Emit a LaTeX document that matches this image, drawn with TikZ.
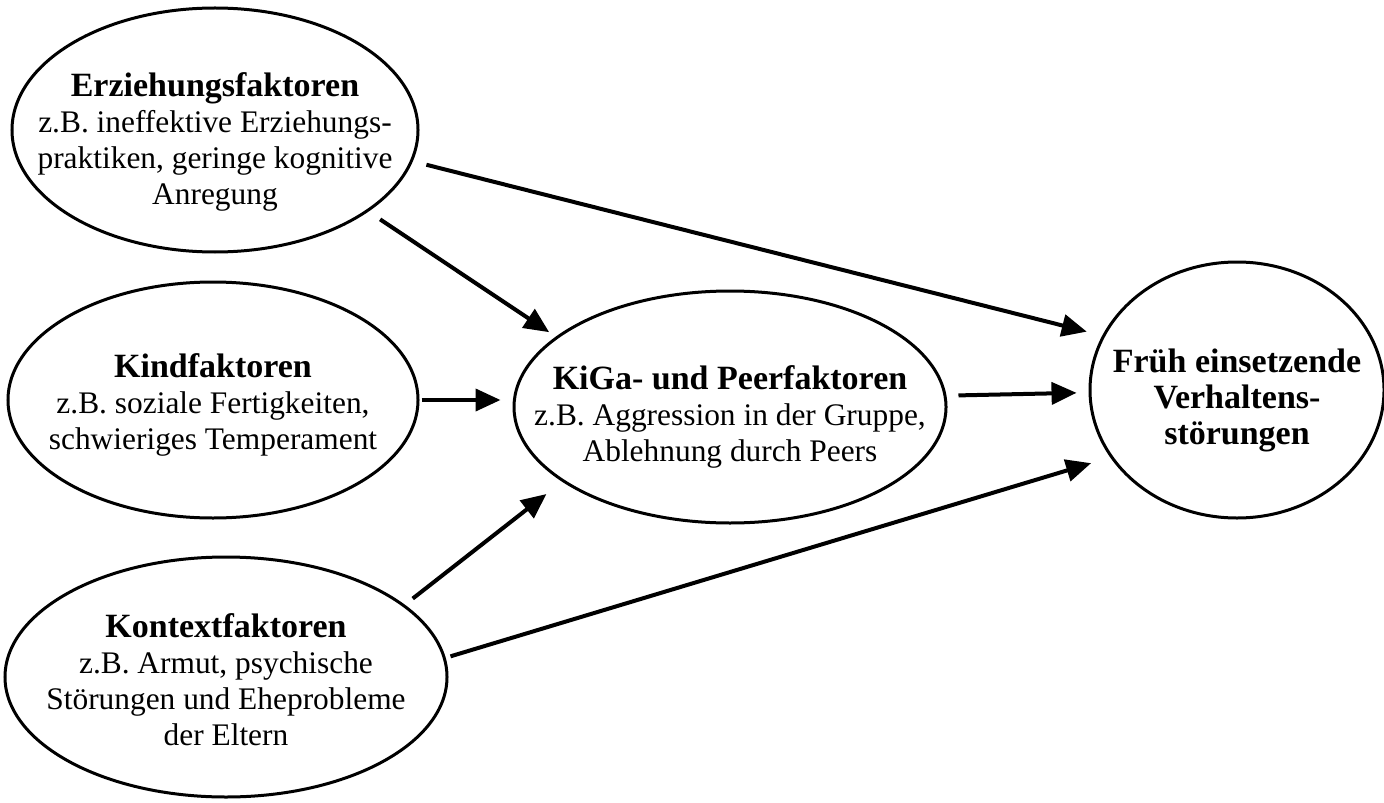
\documentclass[tikz,border=0pt]{standalone}
\usepackage{fontspec}
\setmainfont{Liberation Serif}
\usetikzlibrary{arrows.meta,shapes.geometric}
\newcommand{\fakt}[1]{{\fontsize{17}{18}\selectfont\bfseries #1}}

\begin{document}
\begin{tikzpicture}[x=0.5pt,y=-0.5pt,>={Triangle[length=12.5pt,width=11pt]},
  blob/.style={draw,ellipse,line width=1.5pt,inner sep=0pt},
  txt/.style={align=center,inner sep=0pt,font=\fontsize{15.7}{18}\selectfont},
  arr/.style={->,line width=2pt}]
\useasboundingbox (0,0) rectangle (1384,802);
\node[blob,minimum width=203pt,minimum height=122pt] (erz) at (215,130) {};
\node[blob,minimum width=205pt,minimum height=118pt] (kind) at (213,400) {};
\node[blob,minimum width=221pt,minimum height=120pt] (kontext) at (226,677) {};
\node[blob,minimum width=216pt,minimum height=116pt] (kiga) at (730,407) {};
\node[blob,minimum width=147pt,minimum height=128pt] (frueh) at (1237,390) {};
\node[txt] (erzT) at (215,142) {\fakt{Erziehungsfaktoren}\\z.B. ineffektive Erziehungs-\\praktiken, geringe kognitive\\Anregung};
\node[txt] (kindT) at (213,405) {\fakt{Kindfaktoren}\\z.B. soziale Fertigkeiten,\\schwieriges Temperament};
\node[txt] (kontextT) at (226,680) {\fakt{Kontextfaktoren}\\z.B. Armut, psychische\\Störungen und Eheprobleme\\der Eltern};
\node[txt] (kigaT) at (730,417) {\fakt{KiGa- und Peerfaktoren}\\z.B. Aggression in der Gruppe,\\Ablehnung durch Peers};
\node[txt,font=\fontsize{17}{18}\selectfont\bfseries] (fruehT) at (1237,400) {Früh einsetzende\\Verhaltens-\\störungen};
\draw[arr,shorten <=7pt,shorten >=8pt] (erz.-9.5) -- (frueh.158.7);
\draw[arr,shorten <=7pt,shorten >=4pt] (erz.-28.4) -- (kiga.158.4);
\draw[arr,shorten <=1pt,shorten >=6pt] (kind.east) -- (kind.east -| kiga.west);
\draw[arr,shorten <=5pt,shorten >=10pt] (kontext.22.1) -- (kiga.-156.7);
\draw[arr,shorten <=2.5pt,shorten >=10pt] (kontext.5.7) -- (frueh.-152.7);
\draw[arr,shorten <=6pt,shorten >=6pt] (kiga.3) -- (frueh.181);
\end{tikzpicture}
\end{document}
